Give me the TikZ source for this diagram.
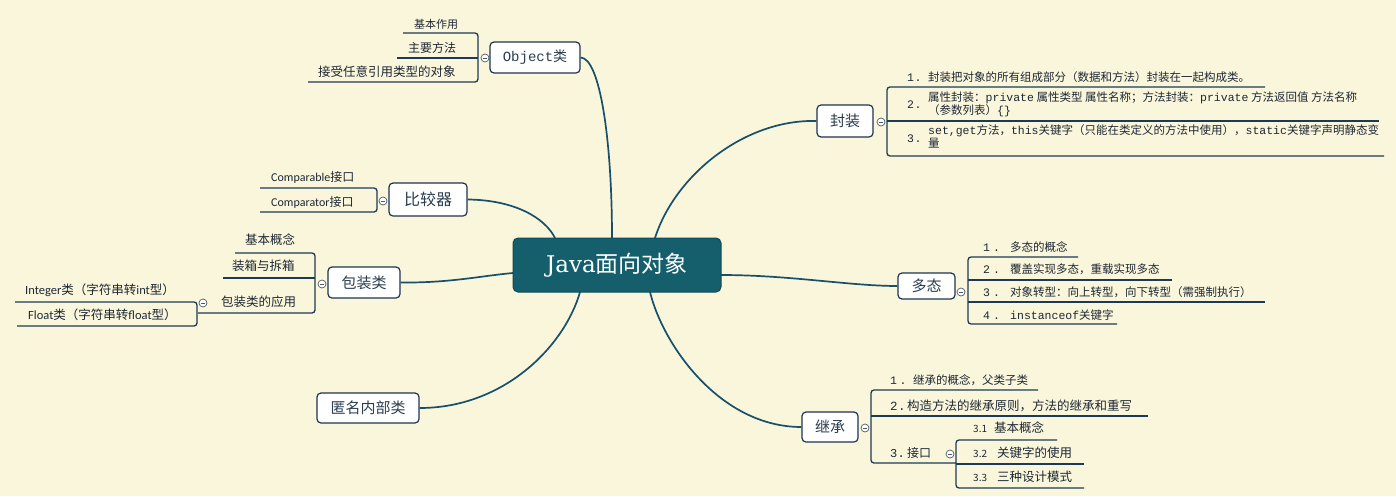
\documentclass[tikz,border=0pt]{standalone}
\usepackage{fontspec}
\setmainfont{Noto Sans CJK SC}
\newfontfamily\monof{Liberation Mono}
\newfontfamily\serf{DejaVu Serif}
\newfontfamily\carl{Carlito}
\definecolor{bg}{HTML}{FAF6DB}
\definecolor{boxc}{HTML}{1C3550}
\definecolor{brc}{HTML}{1C3A55}
\definecolor{connc}{HTML}{17506A}
\definecolor{rootfill}{HTML}{155F6D}
\definecolor{rootdraw}{HTML}{0E4A56}
\definecolor{labc}{HTML}{2B3D50}
\definecolor{itemc}{HTML}{1E2835}
\definecolor{togc}{HTML}{4A5A6A}
\newcommand\numb[3]{\makebox[#1][l]{{\monof #3\hspace{#2}.}}}
\begin{document}
\begin{tikzpicture}[x=1pt,y=-1pt,
  box/.style={draw=boxc, fill=white, line width=1.2pt, rounded corners=4pt, inner sep=0pt, text=labc, font=\fontsize{15}{18}\selectfont},
  rootbox/.style={draw=rootdraw, fill=rootfill, line width=1pt, rounded corners=5pt, inner sep=0pt, text=white, font=\fontsize{23}{26}\selectfont, minimum width=208pt, minimum height=54pt},
  txt/.style={anchor=west, inner sep=0pt, text=itemc},
  fs/.style={font=\fontsize{#1}{11}\selectfont},
  br/.style={draw=brc, line width=1.3pt, rounded corners=3pt},
  conn/.style={draw=connc, line width=1.7pt},
  tog/.style={circle, draw=togc, fill=white, line width=0.7pt, minimum size=8pt, inner sep=0pt,
    path picture={\draw[togc, line width=0.6pt] ([xshift=-2pt]path picture bounding box.center) -- ([xshift=2pt]path picture bounding box.center);}}
]
\fill[bg] (0,0) rectangle (1396,496);
\useasboundingbox (0,0) rectangle (1396,496);

% root
\node[rootbox] (root) at (617,265) {{\serf Java}面向对象};
\coordinate (rO) at (612,238);
\coordinate (rF) at (655,238);
\coordinate (rB) at (555,238);
\coordinate (rP) at (513,273);
\coordinate (rN) at (580,292);
\coordinate (rJ) at (650,292);
\coordinate (rD) at (721,275);

% main topics
\node[box, minimum width=90pt, minimum height=31pt, font=\fontsize{14}{16}\selectfont] (obj) at (535,57.5) {{\monof Object}类};
\node[box, minimum width=78pt, minimum height=33pt, font=\fontsize{16}{18}\selectfont] (cmp) at (428,199.5) {比较器};
\node[box, minimum width=72pt, minimum height=31pt] (pack) at (364,282.5) {包装类};
\node[box, minimum width=102pt, minimum height=30pt] (anon) at (368,408) {匿名内部类};
\node[box, minimum width=56pt, minimum height=32pt] (fz) at (845,121) {封装};
\node[box, minimum width=57pt, minimum height=26pt] (dt) at (926.5,286) {多态};
\node[box, minimum width=56pt, minimum height=30pt] (jc) at (830,427) {继承};

% connectors
\draw[conn] (obj.east) .. controls (600,58) and (612,140) .. (rO);
\draw[conn] (fz.west) .. controls (745,119) and (675,175) .. (rF);
\draw[conn] (cmp.east) .. controls (515,200) and (545,218) .. (rB);
\draw[conn] (pack.east) .. controls (450,283) and (480,276) .. (rP);
\draw[conn] (anon.east) .. controls (505,408) and (565,345) .. (rN);
\draw[conn] (jc.west) .. controls (720,427) and (663,345) .. (rJ);
\draw[conn] (dt.west) .. controls (850,286) and (790,275) .. (rD);

% ---- Object children
\draw[br] (403,33) -- (478,33) -- (478,82) -- (308,82);
\draw[br] (397,58) -- (478,58);
\node[tog] (tobj) at (485,58) {};
\node[txt, fs=11] (o1) at (414,24) {基本作用};
\node[txt, fs=12] (o2) at (408,48) {主要方法};
\node[txt, fs=12.5] (o3) at (318,72) {接受任意引用类型的对象};

% ---- comparator children
\draw[br] (260,188) -- (377,188) -- (377,212) -- (260,212);
\node[tog] (tcmp) at (383,201) {};
\node[txt, fs=12] (c1) at (271,177) {{\carl Comparable}接口};
\node[txt, fs=12] (c2) at (271,202) {{\carl Comparator}接口};

% ---- wrapper children
\draw[br] (235,253) -- (315,253) -- (315,313) -- (198,313);
\draw[br] (223,278) -- (315,278);
\node[tog] (tpack) at (322,284) {};
\node[txt, fs=12.5] (p1) at (245,240) {基本概念};
\node[txt, fs=12.5] (p2) at (232,266) {装箱与拆箱};
\node[txt, fs=12.5] (p3) at (221,302) {包装类的应用};
\draw[br] (15,302) -- (197,302) -- (197,326) -- (17,326);
\node[tog] (tp3) at (203,303) {};
\node[txt, fs=12.5] (p31) at (25,290) {{\carl Integer}类（字符串转{\carl int}型）};
\node[txt, fs=12.5] (p32) at (28,315) {{\carl Float}类（字符串转{\carl float}型）};

% ---- encapsulation children
\draw[br] (1265,87) -- (887,87) -- (887,156) -- (1384,156);
\draw[br] (887,121) -- (1379,121);
\node[tog] (tfz) at (881,122) {};
\node[txt, fs=11.5] (f1) at (907,77) {\numb{21pt}{0.6pt}{1}封装把对象的所有组成部分（数据和方法）封装在一起构成类。};
\node[txt, fs=11.5] (f2n) at (907,105) {\numb{21pt}{0.6pt}{2}};
\node[txt, font=\fontsize{11.5}{11}\selectfont, align=left] (f2) at (928,104.5) {属性封装：{\monof private} 属性类型 属性名称；方法封装：{\monof private} 方法返回值 方法名称\\（参数列表）{\monof \{\}}};
\node[txt, fs=11.5] (f3n) at (907,139) {\numb{21pt}{0.6pt}{3}};
\node[txt, font=\fontsize{11.5}{10.5}\selectfont, align=left] (f3) at (928,136.5) {{\monof set,get}方法，{\monof this}关键字（只能在类定义的方法中使用），{\monof static}关键字声明静态变\\量};

% ---- polymorphism children
\draw[br] (1078,257) -- (968,257) -- (968,324) -- (1117,324);
\draw[br] (968,280) -- (1172,280);
\draw[br] (968,302) -- (1265,302);
\node[tog] (tdt) at (961,292) {};
\node[txt, fs=11.5] (d1) at (983,247) {\numb{27pt}{3pt}{1}多态的概念};
\node[txt, fs=11.5] (d2) at (983,269) {\numb{27pt}{3pt}{2}覆盖实现多态，重载实现多态};
\node[txt, fs=11.5] (d3) at (983,292) {\numb{27pt}{3pt}{3}对象转型：向上转型，向下转型（需强制执行）};
\node[txt, fs=11.5] (d4) at (983,315) {\numb{27pt}{3pt}{4}{\monof instanceof}关键字};

% ---- inheritance children
\draw[br] (1038,390) -- (871,390) -- (871,463) -- (956,463);
\draw[br] (871,416) -- (1148,416);
\node[tog] (tjc) at (865,428) {};
\node[txt, fs=11.5] (j1) at (890,380) {\numb{23pt}{2.6pt}{1}继承的概念，父类子类};
\node[txt, fs=12.5] (j2) at (890,406) {\numb{17pt}{0.3pt}{2}构造方法的继承原则，方法的继承和重写};
\node[txt, fs=12] (j3) at (890,453) {\numb{17pt}{0.3pt}{3}接口};
\draw[br] (1057,440) -- (956,440) -- (956,488) -- (1084,488);
\draw[br] (956,464) -- (1084,464);
\node[tog] (tj3) at (950,454) {};
\node[txt, fs=12.5] (j31) at (973,428) {\makebox[21pt][l]{\fontsize{10}{10}\selectfont 3.1}基本概念};
\node[txt, fs=12.5] (j32) at (973,453) {\makebox[24pt][l]{\fontsize{10}{10}\selectfont 3.2}关键字的使用};
\node[txt, fs=12.5] (j33) at (973,477) {\makebox[24pt][l]{\fontsize{10}{10}\selectfont 3.3}三种设计模式};
\end{tikzpicture}
\end{document}
